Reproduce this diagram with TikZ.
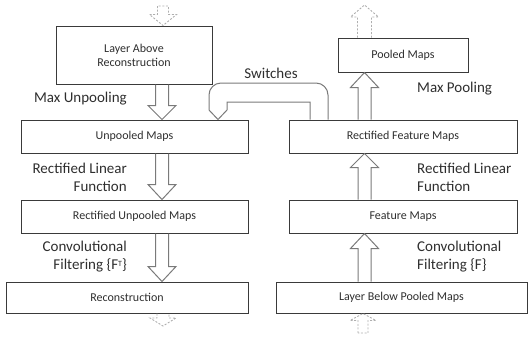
\documentclass[tikz,border=0pt]{standalone}
\usepackage{fontspec}
\setmainfont{Carlito}
\usetikzlibrary{calc}
\definecolor{boxline}{HTML}{3A3A3A}
\definecolor{arrline}{HTML}{7A7A7A}
\definecolor{txt}{HTML}{2E2E2E}
\newcommand\blkarr[6]{%
  \path (#2) coordinate (bS) (#3) coordinate (bE) ($(bE)!#6pt!(bS)$) coordinate (bH);
  \draw[#1] ([xshift=-#4pt]bS) -- ([xshift=-#4pt]bH) -- ([xshift=-#5pt]bH) -- (bE)
     -- ([xshift=#5pt]bH) -- ([xshift=#4pt]bH) -- ([xshift=#4pt]bS);}
\newcommand\blkarrc[6]{%
  \path (#2) coordinate (bS) (#3) coordinate (bE) ($(bE)!#6pt!(bS)$) coordinate (bH);
  \draw[#1] ([xshift=-#4pt]bS) -- ([xshift=-#4pt]bH) -- ([xshift=-#5pt]bH) -- (bE)
     -- ([xshift=#5pt]bH) -- ([xshift=#4pt]bH) -- ([xshift=#4pt]bS) -- cycle;}
\begin{document}
\begin{tikzpicture}[x=1pt,y=-1pt,
  box/.style={draw=boxline, line width=1pt, inner sep=0pt, align=center,
     text=txt, font=\fontsize{12}{14}\selectfont},
  lbl/.style={inner sep=0pt, text=txt, font=\fontsize{15}{18}\selectfont},
  barrow/.style={draw=arrline, line width=1pt, line join=miter},
  darrow/.style={draw=arrline!60, line width=0.9pt, dash pattern=on 2pt off 1.6pt}]
\useasboundingbox (0,0) rectangle (528,338);
\coordinate (lx) at (162,0);
\coordinate (rx) at (364.5,0);
% boxes
\node[box, minimum width=156pt, minimum height=58pt] (la) at (134,55) {Layer Above\\Reconstruction};
\node[box, minimum width=227pt, minimum height=33pt] (um) at (134.5,136.5) {Unpooled Maps};
\node[box, minimum width=227pt, minimum height=33pt] (rum) at (134.5,216.5) {Rectified Unpooled Maps};
\node[box, minimum width=242pt, minimum height=31pt] (rec) at (127,297.5) {Reconstruction};
\node[box, minimum width=130pt, minimum height=34pt] (pm) at (403,55) {Pooled Maps};
\node[box, minimum width=228pt, minimum height=33pt] (rfm) at (403,136.5) {Rectified Feature Maps};
\node[box, minimum width=228pt, minimum height=33pt] (fm) at (403,216.5) {Feature Maps};
\node[box, minimum width=251pt, minimum height=31pt] (lbpm) at (401.5,297.5) {Layer Below Pooled Maps};
% labels
\node[lbl, anchor=east] (t1) at (127,99) {Max Unpooling};
\node[lbl, anchor=east, align=right] (t2) at (127,177.5) {Rectified Linear\\Function};
\node[lbl, anchor=east, align=right] (t3) at (127,257) {Convolutional\\Filtering \{F{\fontsize{8}{8}\selectfont\raisebox{3pt}{T}}\}};
\node[lbl, anchor=west] (t4) at (417,89) {Max Pooling};
\node[lbl, anchor=west, align=left] (t5) at (417,177) {Rectified Linear\\Function};
\node[lbl, anchor=west, align=left] (t6) at (417,257) {Convolutional\\Filtering \{F\}};
\node[lbl] (t7) at (271,73) {Switches};
% block arrows
\blkarr{barrow}{la.south -| lx}{um.north -| lx}{6.5}{14}{14}
\blkarr{barrow}{um.south -| lx}{rum.north -| lx}{6.5}{14}{15}
\blkarr{barrow}{rum.south -| lx}{rec.north -| lx}{6.5}{14}{15}
\blkarr{barrow}{rfm.north -| rx}{pm.south -| rx}{6.5}{14}{15}
\blkarr{barrow}{fm.north -| rx}{rfm.south -| rx}{6.5}{14}{14}
\blkarr{barrow}{lbpm.north -| rx}{fm.south -| rx}{6.5}{14}{15}
% dashed arrows
\coordinate (dA) at (163,6);
\coordinate (dB) at (364.5,5);
\coordinate (dC) at (163,326);
\coordinate (dD) at (363,333);
\blkarrc{darrow}{dA}{la.north -| dA}{5.5}{13.5}{11}
\blkarr{darrow}{pm.north -| dB}{dB}{7}{14}{12}
\blkarr{darrow}{rec.south -| dC}{dC}{6}{13}{8}
\blkarrc{darrow}{dD}{lbpm.south -| dD}{5}{13}{7}
% switches connector
\coordinate (so) at (328,0);
\coordinate (si) at (310,0);
\coordinate (st) at (218,0);
\draw[barrow] (rfm.north -| so) -- (328,95) arc[start angle=0, end angle=-90, radius=12]
   -- (221,83) arc[start angle=-90, end angle=-180, radius=12]
   -- (209,110) -- (um.north -| st) -- (227,110) -- (227,102) -- (310,102) -- (rfm.north -| si);
\end{tikzpicture}
\end{document}
